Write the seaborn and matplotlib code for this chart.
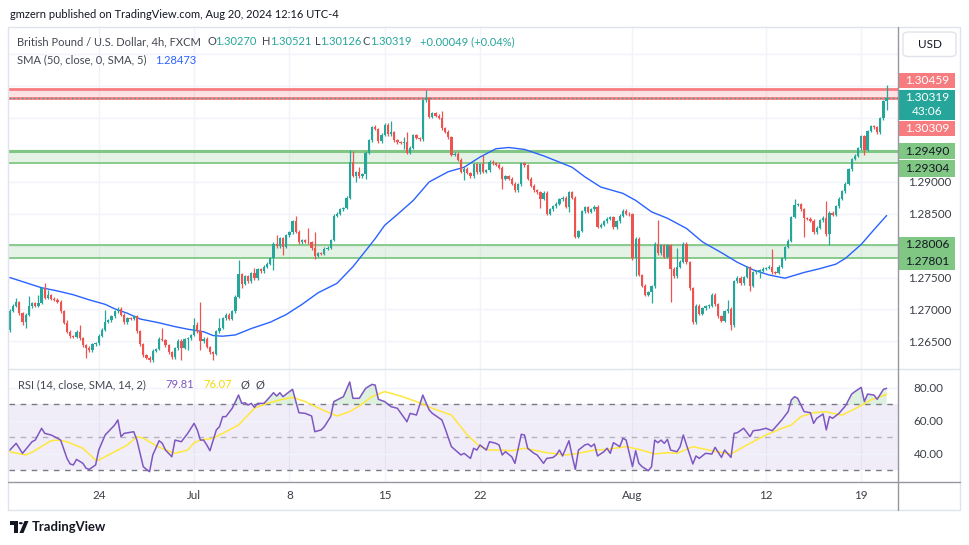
import numpy as np
import pandas as pd
import matplotlib
matplotlib.use("Agg")
import matplotlib.pyplot as plt
import seaborn as sns
from matplotlib.patches import Rectangle, FancyBboxPatch, Circle, Polygon
from matplotlib.lines import Line2D

# ---------------- data (GBP/USD 4h, FXCM) ----------------
first_open = 1.2667
closes = [
    1.2698, 1.2706, 1.2711, 1.2694, 1.2680, 1.2692, 1.2705, 1.2710, 1.2706, 1.2710,
    1.2733, 1.2718, 1.2722, 1.2717, 1.2715, 1.2712, 1.2697, 1.2679, 1.2665, 1.2658,
    1.2657, 1.2665, 1.2655, 1.2644, 1.2640, 1.2636, 1.2645, 1.2647, 1.2659, 1.2668,
    1.2681, 1.2683, 1.2689, 1.2697, 1.2701, 1.2692, 1.2680, 1.2686, 1.2685, 1.2689,
    1.2666, 1.2645, 1.2628, 1.2624, 1.2620, 1.2635, 1.2638, 1.2654, 1.2652, 1.2644,
    1.2633, 1.2625, 1.2639, 1.2651, 1.2640, 1.2653, 1.2655, 1.2660, 1.2675, 1.2666,
    1.2650, 1.2654, 1.2641, 1.2633, 1.2630, 1.2666, 1.2671, 1.2686, 1.2692, 1.2685,
    1.2697, 1.2720, 1.2755, 1.2740, 1.2752, 1.2744, 1.2757, 1.2749, 1.2763, 1.2760,
    1.2767, 1.2772, 1.2780, 1.2803, 1.2799, 1.2812, 1.2798, 1.2816, 1.2821, 1.2838,
    1.2822, 1.2805, 1.2809, 1.2806, 1.2805, 1.2796, 1.2784, 1.2788, 1.2787, 1.2795,
    1.2797, 1.2809, 1.2847, 1.2850, 1.2857, 1.2859, 1.2875, 1.2931, 1.2910, 1.2915,
    1.2909, 1.2912, 1.2946, 1.2965, 1.2986, 1.2983, 1.2964, 1.2974, 1.2990, 1.2975,
    1.2978, 1.2965, 1.2962, 1.2961, 1.2962, 1.2946, 1.2954, 1.2973, 1.2969, 1.2967,
    1.3028, 1.3031, 1.3002, 1.3008, 1.3004, 1.3001, 1.2984, 1.2979, 1.2970, 1.2943,
    1.2944, 1.2935, 1.2916, 1.2921, 1.2914, 1.2909, 1.2928, 1.2915, 1.2928, 1.2916,
    1.2918, 1.2932, 1.2929, 1.2927, 1.2922, 1.2905, 1.2909, 1.2905, 1.2897, 1.2887,
    1.2896, 1.2929, 1.2926, 1.2905, 1.2894, 1.2887, 1.2884, 1.2874, 1.2883, 1.2850,
    1.2857, 1.2862, 1.2866, 1.2873, 1.2875, 1.2861, 1.2884, 1.2875, 1.2814, 1.2823,
    1.2854, 1.2860, 1.2853, 1.2857, 1.2861, 1.2830, 1.2833, 1.2838, 1.2842, 1.2845,
    1.2829, 1.2838, 1.2847, 1.2855, 1.2850, 1.2849, 1.2780, 1.2811, 1.2754, 1.2737,
    1.2723, 1.2727, 1.2736, 1.2803, 1.2788, 1.2801, 1.2783, 1.2801, 1.2764, 1.2752,
    1.2767, 1.2775, 1.2803, 1.2774, 1.2733, 1.2680, 1.2706, 1.2693, 1.2702, 1.2705,
    1.2706, 1.2723, 1.2708, 1.2689, 1.2682, 1.2697, 1.2701, 1.2675, 1.2744, 1.2750,
    1.2741, 1.2751, 1.2766, 1.2737, 1.2758, 1.2760, 1.2761, 1.2764, 1.2765, 1.2767,
    1.2758, 1.2757, 1.2767, 1.2780, 1.2798, 1.2808, 1.2845, 1.2864, 1.2865, 1.2857,
    1.2843, 1.2842, 1.2839, 1.2821, 1.2828, 1.2840, 1.2844, 1.2818, 1.2852, 1.2848,
    1.2862, 1.2874, 1.2885, 1.2897, 1.2920, 1.2936, 1.2941, 1.2953, 1.2972, 1.2950,
    1.2980, 1.2987, 1.2986, 1.2978, 1.3000, 1.3027, 1.30319,
]
wick_high = {
    2: 1.2718, 6: 1.2721, 9: 1.2722, 11: 1.2741, 12: 1.2731, 18: 1.2684, 22: 1.2676,
    30: 1.2699, 48: 1.2671, 58: 1.2686, 59: 1.2681, 60: 1.2711, 66: 1.2686, 72: 1.2778,
    77: 1.2765, 84: 1.2816, 90: 1.2846, 94: 1.2827, 96: 1.2822, 107: 1.2950, 108: 1.2948,
    110: 1.2923, 115: 1.2990, 120: 1.2995, 124: 1.2970, 125: 1.2979, 131: 1.3044,
    136: 1.3012, 149: 1.2942, 204: 1.2840, 210: 1.2797, 226: 1.2715, 240: 1.2795,
    247: 1.2874, 257: 1.2870, 276: 1.30521,
}
wick_low = {
    0: 1.2665, 4: 1.2676, 5: 1.2671, 24: 1.2624, 44: 1.2617, 54: 1.2621, 56: 1.2637,
    60: 1.2637, 64: 1.2620, 73: 1.2734, 83: 1.2762, 86: 1.2785, 96: 1.2779, 109: 1.2900,
    112: 1.2904, 124: 1.2952, 143: 1.2903, 155: 1.2889, 167: 1.2859, 176: 1.2853,
    197: 1.2753, 202: 1.2710, 208: 1.2712, 227: 1.2668, 233: 1.2729, 236: 1.2749,
    250: 1.2814, 258: 1.2801, 269: 1.2942, 276: 1.30126,
}
sma_idx = [0, 10, 15, 20, 25, 30, 33, 37, 41, 47, 52, 56, 61, 64, 67, 71, 76, 82, 87, 92,
           97, 103, 108, 112, 115, 118, 122, 127, 132, 138, 143, 148, 153, 157, 162, 168,
           173, 177, 181, 186, 193, 197, 202, 207, 213, 218, 224, 229, 234, 239, 244, 250,
           255, 260, 263, 268, 272, 276]
sma_vals = [1.2750, 1.2734, 1.2729, 1.2723, 1.2715, 1.2708, 1.2701, 1.2694, 1.2685, 1.2679,
            1.2673, 1.2669, 1.2665, 1.2659, 1.2658, 1.2660, 1.2670, 1.2680, 1.2692, 1.2708,
            1.2726, 1.2741, 1.2767, 1.2792, 1.2811, 1.2832, 1.2849, 1.2871, 1.2900, 1.2916,
            1.2923, 1.2939, 1.2952, 1.2954, 1.2951, 1.2941, 1.2931, 1.2923, 1.2908, 1.2892,
            1.2882, 1.2871, 1.2853, 1.2843, 1.2827, 1.2806, 1.2789, 1.2774, 1.2762, 1.2754,
            1.2749, 1.2758, 1.2764, 1.2771, 1.2780, 1.2802, 1.2825, 1.28473]
rsi_idx = [0, 2, 4, 7, 8, 10, 11, 13, 15, 16, 18, 19, 20, 21, 23, 24, 25, 27, 28, 30, 31, 33,
           34, 35, 36, 39, 40, 41, 42, 43, 44, 45, 47, 48, 49, 51, 52, 54, 56, 58, 59, 60, 61,
           62, 63, 65, 66, 67, 68, 70, 72, 73, 74, 75, 76, 77, 78, 80, 81, 83, 84, 85, 86, 87,
           89, 91, 93, 95, 96, 98, 99, 101, 102, 104, 105, 107, 108, 110, 112, 114, 115, 116,
           118, 120, 122, 125, 126, 128, 130, 132, 133, 136, 137, 139, 142, 143, 145, 146, 147,
           148, 150, 151, 153, 154, 155, 156, 158, 159, 161, 162, 163, 165, 166, 168, 169, 171,
           172, 173, 174, 176, 177, 178, 179, 181, 182, 183, 184, 185, 187, 188, 189, 190, 192,
           193, 194, 196, 197, 198, 199, 201, 202, 203, 204, 205, 206, 207, 208, 210, 211, 212,
           213, 215, 216, 217, 219, 221, 222, 224, 225, 227, 228, 229, 231, 233, 234, 236, 238,
           240, 243, 245, 246, 247, 248, 250, 252, 253, 254, 256, 257, 258, 259, 261, 263, 265,
           266, 268, 269, 270, 272, 273, 275, 276]
rsi_vals = [42.1, 46.2, 40.1, 47.2, 48.2, 55.4, 52.3, 51.3, 49.3, 48.2, 37.0, 33.6, 33.0, 36.4,
            34.0, 31.0, 30.3, 33.0, 42.1, 51.3, 53.3, 57.4, 60.5, 50.3, 52.3, 53.3, 48.2, 40.1,
            32.0, 30.3, 28.9, 39.1, 47.8, 46.2, 42.1, 38.0, 48.2, 47.2, 52.3, 58.4, 54.4, 48.2,
            48.2, 45.2, 41.7, 54.4, 56.4, 62.5, 62.5, 67.6, 75.7, 70.6, 71.0, 69.6, 70.6, 68.2,
            70.6, 70.6, 72.7, 77.1, 75.1, 77.1, 74.7, 76.3, 79.2, 64.9, 64.5, 62.9, 53.3, 54.4,
            56.4, 62.5, 71.7, 73.7, 74.7, 83.7, 73.7, 73.7, 79.8, 82.2, 81.8, 73.1, 71.7, 68.6,
            67.6, 59.4, 64.5, 63.5, 75.7, 66.6, 64.5, 60.5, 55.4, 44.2, 39.1, 40.1, 37.0, 43.2,
            42.1, 45.2, 42.1, 47.2, 46.2, 45.2, 39.1, 41.1, 38.0, 34.0, 51.7, 51.3, 43.2, 40.1,
            39.1, 34.0, 37.0, 37.6, 39.1, 42.1, 38.5, 47.8, 38.5, 30.3, 42.1, 45.2, 45.8, 44.2,
            45.8, 38.5, 41.1, 43.2, 40.1, 46.6, 44.2, 49.3, 48.2, 32.0, 41.7, 34.0, 32.0, 29.5,
            32.0, 48.2, 46.6, 48.2, 46.2, 48.6, 42.1, 41.1, 44.2, 51.3, 45.2, 33.6, 38.5, 37.0,
            40.1, 39.7, 43.8, 37.6, 42.1, 37.6, 52.3, 52.7, 55.4, 50.3, 53.9, 54.4, 55.4, 53.9,
            60.5, 65.6, 72.7, 74.7, 73.7, 65.6, 64.9, 58.4, 61.5, 64.1, 54.4, 62.5, 61.5, 64.5,
            69.0, 76.3, 77.8, 80.4, 71.7, 76.3, 75.7, 73.1, 79.2, 79.81]
rsi_ma_idx = [0, 5, 7, 13, 15, 18, 23, 27, 28, 33, 37, 40, 42, 47, 52, 56, 58, 60, 64, 68, 72,
              77, 81, 85, 89, 93, 98, 103, 107, 110, 114, 118, 123, 128, 133, 139, 144, 148,
              151, 154, 158, 162, 169, 175, 179, 184, 188, 194, 198, 203, 207, 210, 215, 221,
              227, 232, 238, 243, 246, 249, 253, 257, 259, 262, 267, 271, 276]
rsi_ma_vals = [41.1, 39.1, 40.8, 47.8, 48.2, 47.2, 43.2, 36.0, 36.0, 41.1, 45.2, 50.3, 49.3,
               43.8, 40.1, 42.1, 46.6, 48.2, 49.3, 53.3, 57.4, 67.6, 70.6, 72.7, 74.3, 71.7,
               67.0, 62.9, 65.6, 69.0, 74.7, 77.8, 75.1, 71.7, 67.6, 63.5, 51.3, 44.2, 42.1,
               42.1, 41.7, 43.2, 40.5, 39.1, 40.1, 42.1, 42.5, 44.2, 42.5, 39.7, 40.5, 40.1,
               44.2, 41.7, 39.7, 45.2, 51.3, 55.4, 57.4, 62.5, 64.9, 65.6, 64.5, 63.5, 68.2,
               72.7, 76.07]
time_tick_idx = [28, 58, 88, 118, 148, 196, 238, 268]
time_tick_labels = ["24", "Jul", "8", "15", "22", "Aug", "12", "19"]
price_grid = [1.265, 1.270, 1.275, 1.280, 1.285, 1.290, 1.295, 1.300, 1.305, 1.310]
price_tick_labels = ["1.26500", "1.27000", "1.27500", "", "1.28500", "1.29000", "", "", "", ""]
rsi_grid = [40, 60, 80]
rsi_tick_labels = ["40.00", "60.00", "80.00"]
resistance_zone = (1.30309, 1.30459)
support_zone_upper = (1.29304, 1.29490)
support_zone_lower = (1.27801, 1.28006)
last_price = 1.30319
last_open, last_high, last_low, last_close = "1.30270", "1.30521", "1.30126", "1.30319"
change_text = "+0.00049 (+0.04%)"
sma_last = "1.28473"
rsi_last, rsi_ma_last = "79.81", "76.07"
countdown = "43:06"

# ---------------- style ----------------
UP, DOWN = "#26A69A", "#EF5350"
RED_Z, GREEN_Z = "#F77C80", "#81C784"
TXT = "#131722"
HDR = "#434651"
AXTXT = "#3B3E47"
GRID = "#F0F3FA"
FS = 8.0

sns.set_theme(style="white")
plt.rcParams["font.family"] = ["Lato", "DejaVu Sans"]

W, H = 970, 545
fig = plt.figure(figsize=(W / 100, H / 100), dpi=100)
fig.patch.set_facecolor("white")


def box(x0, y0, x1, y1):
    return [x0 / W, 1 - y1 / H, (x1 - x0) / W, (y1 - y0) / H]


def ftext(x, y, s, **kw):
    kw.setdefault("va", "center")
    kw.setdefault("ha", "left")
    return fig.text(x / W, 1 - y / H, s, **kw)


def fline(x0, y0, x1, y1, **kw):
    fig.add_artist(Line2D([x0 / W, x1 / W], [1 - y0 / H, 1 - y1 / H],
                          transform=fig.transFigure, **kw))


ax = fig.add_axes(box(9.5, 27, 898.3, 369))
axr = fig.add_axes(box(9.5, 369, 898.3, 482))
for a in (ax, axr):
    a.set_facecolor("none")
    for s in a.spines.values():
        s.set_visible(False)
    a.set_xlim(-0.1, 279.67)

ax.set_ylim(1.260655, 1.314302)
axr.set_ylim(22.6, 91.6)

# grid
for t in time_tick_idx:
    ax.axvline(t, color=GRID, lw=1, zorder=0)
    axr.axvline(t, color=GRID, lw=1, zorder=0)
for p in price_grid:
    ax.axhline(p, color=GRID, lw=1, zorder=0)
for r in rsi_grid:
    axr.axhline(r, color=GRID, lw=1, zorder=0.2)

# zones
ax.axhspan(*resistance_zone, color=RED_Z, alpha=0.22, lw=0, zorder=1)
ax.axhline(resistance_zone[0], color=RED_Z, lw=2, zorder=1.5)
ax.axhline(resistance_zone[1], color=RED_Z, lw=2, zorder=1.5)
ax.axhspan(*support_zone_upper, color=GREEN_Z, alpha=0.2, lw=0, zorder=1)
ax.axhline(support_zone_upper[1], color=GREEN_Z, lw=2.2, zorder=1.5)
ax.axhline(support_zone_upper[0], color=GREEN_Z, lw=1.3, zorder=1.5)
ax.axhspan(*support_zone_lower, color=GREEN_Z, alpha=0.2, lw=0, zorder=1)
ax.axhline(support_zone_lower[1], color=GREEN_Z, lw=1.3, zorder=1.5)
ax.axhline(support_zone_lower[0], color=GREEN_Z, lw=1.3, zorder=1.5)
ax.axhline(last_price, color=UP, lw=1, ls=(0, (1, 2)), zorder=1.6)

# candles
c = np.array(closes)
o = np.array([first_open] + closes[:-1])
idx = np.arange(len(c))
typical_wick = 0.00022
hi = np.array([wick_high.get(i, max(o[i], c[i]) + typical_wick) for i in idx])
lo = np.array([wick_low.get(i, min(o[i], c[i]) - typical_wick) for i in idx])
cols = np.where(c >= o, UP, DOWN)
ax.vlines(idx, lo, hi, colors=cols, lw=0.9, zorder=3)
ax.bar(idx, np.maximum(np.abs(c - o), 0.00013), bottom=np.minimum(o, c), width=0.72,
       color=cols, lw=0, zorder=3.1)

# SMA 50
sma_df = pd.DataFrame({"bar": sma_idx, "sma": sma_vals})
sns.lineplot(data=sma_df, x="bar", y="sma", ax=ax, color="#2962FF", lw=1.0,
             estimator=None, sort=False, zorder=2.5)

# RSI pane
axr.axhspan(30, 70, color="#7E57C2", alpha=0.1, lw=0, zorder=0.1)
axr.axhline(70, color="#787B86", lw=1, ls=(0, (4, 4)), zorder=1)
axr.axhline(30, color="#787B86", lw=1, ls=(0, (4, 4)), zorder=1)
axr.axhline(50, color="#787B86", lw=1, ls=(0, (4, 4)), alpha=0.5, zorder=1)
rsi_df = pd.DataFrame({"bar": rsi_idx, "rsi": rsi_vals})
ra = np.array(rsi_vals)
axr.fill_between(rsi_idx, ra, 70, where=ra > 70, interpolate=True,
                 color="#4CAF50", alpha=0.18, lw=0, zorder=1.2)
axr.fill_between(rsi_idx, ra, 30, where=ra < 30, interpolate=True,
                 color="#EF5350", alpha=0.18, lw=0, zorder=1.2)
ma_df = pd.DataFrame({"bar": rsi_ma_idx, "ma": rsi_ma_vals})
sns.lineplot(data=ma_df, x="bar", y="ma", ax=axr, color="#FFE83B", lw=1.1,
             estimator=None, sort=False, zorder=2)
sns.lineplot(data=rsi_df, x="bar", y="rsi", ax=axr, color="#7E57C2", lw=1.1,
             estimator=None, sort=False, zorder=2.2)

# axes ticks
ax.set_xlabel(""); ax.set_ylabel(""); axr.set_xlabel(""); axr.set_ylabel("")
ax.set_xticks([])
ax.yaxis.tick_right()
ax.set_yticks(price_grid)
ax.set_yticklabels(price_tick_labels)
ax.tick_params(axis="y", length=0, pad=7.3, labelsize=8.4, labelcolor=AXTXT)
axr.yaxis.tick_right()
axr.set_yticks(rsi_grid)
axr.set_yticklabels(rsi_tick_labels)
axr.tick_params(axis="y", length=0, pad=11, labelsize=8.4, labelcolor=AXTXT)
axr.set_xticks(time_tick_idx)
axr.set_xticklabels(time_tick_labels)
axr.tick_params(axis="x", length=0, pad=5.5, labelsize=8.4, labelcolor=AXTXT)

# frame & separators
fig.add_artist(Rectangle((8 / W, 1 - 510 / H), 952 / W, 483 / H, transform=fig.transFigure,
                         fill=False, ec="#E0E3EB", lw=1))
fline(8, 369, 960, 369, color="#E0E3EB", lw=1)
fline(8, 482, 960, 482, color="#9598A1", lw=1)
fline(898.3, 27, 898.3, 510, color="#9598A1", lw=1)

# price-axis labels
def price_px(p):
    return H - ax.transData.transform((0, p))[1]


axis_boxes = [
    (resistance_zone[1], RED_Z, "white", -8.2, 14.5),
    (resistance_zone[0], RED_Z, "white", 30.2, 15.5),
    (support_zone_upper[1], GREEN_Z, TXT, 0.4, 16),
    (support_zone_upper[0], GREEN_Z, TXT, 5.5, 17),
    (support_zone_lower[1], GREEN_Z, TXT, -0.4, 16),
    (support_zone_lower[0], GREEN_Z, TXT, 3.0, 17),
]
for p, bg, fg, dy, h in axis_boxes:
    yc = price_px(p) + dy
    fig.add_artist(Rectangle((898.8 / W, 1 - (yc + h / 2) / H), 56.5 / W, h / H,
                             transform=fig.transFigure, fc=bg, ec="none"))
    ftext(927.5, yc, f"{p:.5f}", ha="center", color=fg, fontsize=8.6)
yc = price_px(last_price)
fig.add_artist(Rectangle((898.8 / W, 1 - (yc + 22.5) / H), 56.5 / W, 30 / H,
                         transform=fig.transFigure, fc=UP, ec="none"))
ftext(927.5, yc - 0.5, last_close, ha="center", color="white", fontsize=8.6)
ftext(927.5, yc + 14, countdown, ha="center", color="white", fontsize=8.6)

# USD box
fig.add_artist(FancyBboxPatch((903 / W, 1 - 56.5 / H), 53 / W, 24.5 / H,
                              boxstyle="round,pad=0,rounding_size=0.006",
                              transform=fig.transFigure, fc="white", ec="#E0E3EB", lw=1))
ftext(929.5, 44.5, "USD", ha="center", color=TXT, fontsize=8.4)

# header texts
ftext(10, 14, "gmzern published on TradingView.com, Aug 20, 2024 12:16 UTC-4",
      color=TXT, fontsize=FS)
ftext(17, 41.5, "British Pound / U.S. Dollar, 4h, FXCM", color=HDR, fontsize=FS)
for x, s, col in [(208, "O", HDR), (215, last_open, UP), (262, "H", HDR),
                  (270, last_high, UP), (315, "L", HDR), (320.5, last_low, UP),
                  (363, "C", HDR), (370, last_close, UP), (420, change_text, UP)]:
    ftext(x, 41.5, s, color=col, fontsize=FS)
ftext(17, 60, "SMA (50, close, 0, SMA, 5)", color=HDR, fontsize=FS)
ftext(155, 60, sma_last, color="#2962FF", fontsize=FS)
ftext(18, 385, "RSI (14, close, SMA, 14, 2)", color=HDR, fontsize=FS)
ftext(165, 385, rsi_last, color="#7E57C2", fontsize=FS)
ftext(203, 385, rsi_ma_last, color="#F5D90A", fontsize=FS)
ftext(241, 385, "\u00d8", color=HDR, fontsize=FS)
ftext(256, 385, "\u00d8", color=HDR, fontsize=FS)

# TradingView logo
fig.add_artist(Rectangle((10 / W, 1 - 525 / H), 8 / W, 4 / H, transform=fig.transFigure,
                         fc=TXT, ec="none"))
fig.add_artist(Rectangle((13.8 / W, 1 - 533 / H), 4.2 / W, 9 / H, transform=fig.transFigure,
                         fc=TXT, ec="none"))
fig.add_artist(Circle((20.8 / W, 1 - 523.2 / H), 2.0 / W, transform=fig.transFigure,
                      fc=TXT, ec="none"))
fig.add_artist(Polygon([(19.5 / W, 1 - 533 / H), (24.5 / W, 1 - 521 / H),
                        (28.5 / W, 1 - 521 / H), (23.5 / W, 1 - 533 / H)],
                       closed=True, transform=fig.transFigure, fc=TXT, ec="none"))
ftext(32, 527, "TradingView", color=TXT, fontsize=9.4, fontweight="bold")

fig.savefig("out.png", dpi=100, facecolor="white")
